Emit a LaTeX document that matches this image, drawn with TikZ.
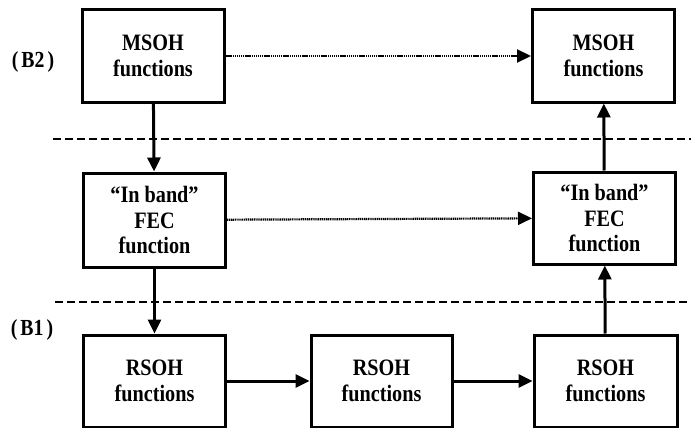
\documentclass[tikz,border=0pt]{standalone}
\usepackage{fontspec}
\setmainfont{Liberation Serif}[FakeStretch=0.86]
\usetikzlibrary{arrows.meta}
\begin{document}
\begin{tikzpicture}[x=1pt,y=-1pt,
  box/.style={draw,line width=3pt,minimum width=142pt,minimum height=92pt,
    align=center,font=\fontsize{23.5}{25.5}\selectfont\bfseries,inner sep=0pt},
  solidarrow/.style={line width=3pt,-{Triangle[length=14pt,width=13pt]}},
  dotarrow/.style={line width=2.2pt,dash pattern=on 1.2pt off 0.7pt,-{Triangle[length=14pt,width=13pt]}},
  layerline/.style={line width=2.6pt,dash pattern=on 8pt off 4pt},
  lbl/.style={font=\fontsize{23}{26}\selectfont\bfseries}]
\useasboundingbox (0,0) rectangle (691,428);
\node[box] (m1) at (153,56) {MSOH\\functions};
\node[box] (m2) at (603.5,56) {MSOH\\functions};
\node[box,minimum height=94pt] (f1) at (154.5,220) {``In band''\\FEC\\function};
\node[box] (f2) at (604.5,218) {``In band''\\FEC\\function};
\node[box] (r1) at (154.5,381) {RSOH\\functions};
\node[box,minimum width=141pt] (r2) at (381.5,381) {RSOH\\functions};
\node[box,minimum width=143pt] (r3) at (605.5,381) {RSOH\\functions};
\node[lbl] (b2) at (33,62) {(\hspace{3pt}B2\hspace{3pt})};
\node[lbl] (b1) at (32,330) {(\hspace{3pt}B1\hspace{3pt})};
\coordinate (l1a) at (53,139);
\coordinate (l1b) at (691,139);
\coordinate (l2a) at (55,302);
\coordinate (l2b) at (691,302);
\draw[layerline] (l1a) -- (l1b);
\draw[layerline] (l2a) -- (l2b);
\draw[solidarrow] (m1) -- (f1);
\draw[solidarrow] (f1) -- (r1);
\draw[solidarrow] (r3) -- (f2);
\draw[solidarrow] (f2) -- (m2);
\draw[solidarrow] (r1) -- (r2);
\draw[solidarrow] (r2) -- (r3);
\draw[dotarrow] (m1) -- (m2);
\draw[dotarrow] (f1) -- (f2);
\end{tikzpicture}
\end{document}
